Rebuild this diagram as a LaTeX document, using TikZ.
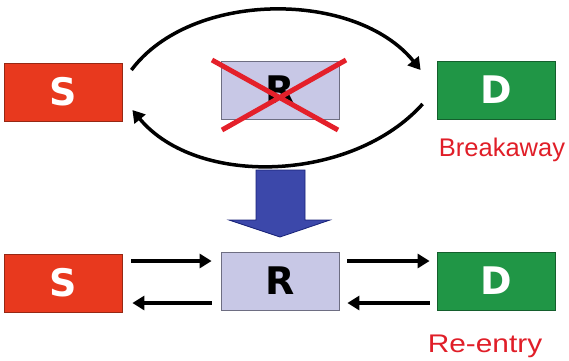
\documentclass[tikz,border=0pt]{standalone}
\usepackage{fontspec}
\setmainfont{Liberation Sans}
\newfontfamily\boxfont{DejaVu Sans}
\usetikzlibrary{arrows.meta}
\usetikzlibrary{calc}

\definecolor{srcred}{RGB}{232,57,30}
\definecolor{srcedge}{RGB}{150,40,20}
\definecolor{relfill}{RGB}{200,200,230}
\definecolor{reledge}{RGB}{110,110,130}
\definecolor{dstgreen}{RGB}{32,150,70}
\definecolor{dstedge}{RGB}{20,95,45}
\definecolor{crossred}{RGB}{228,32,42}
\definecolor{turnblue}{RGB}{60,72,170}
\definecolor{turnedge}{RGB}{25,35,120}
\definecolor{notered}{RGB}{224,30,40}

\begin{document}
\begin{tikzpicture}[x=1pt,y=1pt,
	box/.style={draw,line width=0.8pt,minimum width=118pt,minimum height=58pt,inner sep=0pt,
		font=\boxfont\bfseries\fontsize{38}{40}\selectfont},
	src/.style={box,fill=srcred,draw=srcedge,text=white},
	rel/.style={box,fill=relfill,draw=reledge,text=black},
	dst/.style={box,fill=dstgreen,draw=dstedge,text=white},
	flow/.style={line width=3.5pt,-{Triangle[length=12pt,width=14pt]}},
	note/.style={text=notered,inner sep=0pt,font=\fontsize{25.5}{27}\selectfont}]
	\useasboundingbox (0,0) rectangle (569,360);

	% breakaway
	\node[src] (S1) at (63,268) {S};
	\node[rel] (R1) at (280,270) {R};
	\node[dst] (D1) at (496,270) {D};
	\node[note] (brk) at (502,210) {Breakaway};
	\draw[crossred,line width=5pt] ($(R1.center)+(-68,30)$) -- ($(R1.center)+(58,-40)$)
		($(R1.center)+(66,30)$) -- ($(R1.center)+(-58,-40)$);
	\draw[flow] ($(S1.east)+(9,22)$) .. controls +(60,80) and +(-65,80) .. ($(D1.west)+(-16,20)$);
	\draw[flow] ($(D1.west)+(-14,-14)$) .. controls +(-70,-78) and +(65,-78) .. ($(S1.east)+(10,-18)$);

	% turn
	\draw[turnedge,fill=turnblue,line width=0.8pt] (256,190) -- (305,190) -- (305,140) -- (330,140)
		-- (280,123) -- (229,140) -- (256,140) -- cycle;

	% re-entry
	\node[src] (S2) at (63,77) {S};
	\node[rel] (R2) at (280,79) {R};
	\node[dst] (D2) at (496,79) {D};
	\node[note] (ent) at (485,14) {\scalebox{1.17}[1]{Re-entry}};
	\draw[flow] ([yshift=20pt]R2.west -| S2.east) ++(9,0) -- ([xshift=-9pt,yshift=20pt]R2.west);
	\draw[flow] ([xshift=-9pt,yshift=-22pt]R2.west) -- ([xshift=10pt,yshift=-22pt]R2.west -| S2.east);
	\draw[flow] ([xshift=8pt,yshift=20pt]R2.east) -- ([xshift=-7pt,yshift=20pt]D2.west);
	\draw[flow] ([xshift=-7pt,yshift=-22pt]D2.west) -- ([xshift=8pt,yshift=-22pt]R2.east);
\end{tikzpicture}
\end{document}
